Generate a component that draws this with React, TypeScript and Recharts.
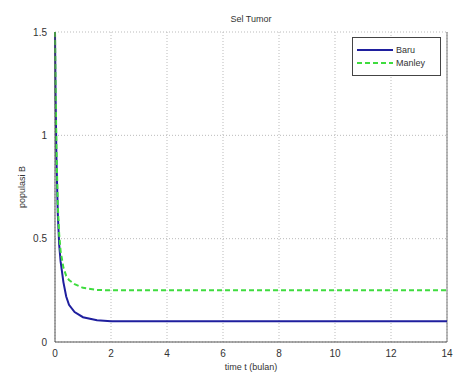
import { LineChart, Line, XAxis, YAxis, CartesianGrid, ReferenceLine } from 'recharts';

const times = [0, 0.02, 0.05, 0.1, 0.15, 0.2, 0.3, 0.4, 0.5, 0.7, 1, 1.5, 2, 3, 4, 6, 8, 10, 12, 14];
const baru = [1.5, 1.2, 0.9, 0.62, 0.47, 0.39, 0.29, 0.22, 0.18, 0.145, 0.12, 0.105, 0.1, 0.1, 0.1, 0.1, 0.1, 0.1, 0.1, 0.1];
const manley = [1.5, 1.25, 0.95, 0.66, 0.52, 0.44, 0.36, 0.32, 0.3, 0.28, 0.262, 0.252, 0.25, 0.25, 0.25, 0.25, 0.25, 0.25, 0.25, 0.25];
const xTicks = [0, 2, 4, 6, 8, 10, 12, 14];
const yTicks = [0, 0.5, 1, 1.5];

const data = times.map((t, i) => ({ t, baru: baru[i], manley: manley[i] }));

const font = '"Liberation Sans", Arial, sans-serif';
const tickStyle = { fontSize: 10, fill: '#333', fontFamily: font };

// legend drawn as an overlay so it doesn't push the plot down
function LegendBox() {
  return (
    <div
      style={{
        position: 'absolute',
        left: 352,
        top: 37,
        width: 89,
        height: 39,
        boxSizing: 'border-box',
        border: '1px solid #444',
        background: '#fff',
        padding: '5px 4px',
        fontFamily: font,
        fontSize: 9,
        color: '#333',
      }}
    >
      <div style={{ display: 'flex', alignItems: 'center', gap: 3, height: 13 }}>
        <svg width={36} height={6}>
          <line x1={0} y1={3} x2={36} y2={3} stroke="#1f1f9e" strokeWidth={2} />
        </svg>
        <span>Baru</span>
      </div>
      <div style={{ display: 'flex', alignItems: 'center', gap: 3, height: 13 }}>
        <svg width={36} height={6}>
          <line x1={0} y1={3} x2={36} y2={3} stroke="#3fdc3f" strokeWidth={2} strokeDasharray="5 3" />
        </svg>
        <span>Manley</span>
      </div>
    </div>
  );
}

export default function App() {
  return (
    <div style={{ position: 'absolute', left: 0, top: 0, width: 454, height: 376, background: '#fff' }}>
      <div
        style={{
          position: 'absolute',
          left: 55,
          width: 392,
          top: 14,
          textAlign: 'center',
          fontFamily: font,
          fontSize: 9,
          color: '#333',
        }}
      >
        Sel Tumor
      </div>
      <LineChart width={454} height={376} data={data} margin={{ top: 32, right: 7, bottom: 0, left: 0 }}>
        <CartesianGrid stroke="#bbb" strokeDasharray="1 2" />
        <XAxis
          dataKey="t"
          type="number"
          domain={[0, 14]}
          ticks={xTicks}
          height={34}
          tick={tickStyle}
          tickLine={false}
          stroke="#555"
          label={{ value: 'time t (bulan)', position: 'insideBottom', offset: 6, style: { fontSize: 9, fill: '#333', fontFamily: font } }}
        />
        <YAxis
          type="number"
          domain={[0, 1.5]}
          ticks={yTicks}
          width={55}
          tick={tickStyle}
          tickLine={false}
          stroke="#555"
          label={{ value: 'populasi B', angle: -90, position: 'insideLeft', offset: 22, style: { fontSize: 9, fill: '#333', fontFamily: font, textAnchor: 'middle' } }}
        />
        <ReferenceLine x={14} stroke="#777" />
        <Line type="linear" dataKey="baru" name="Baru" stroke="#1f1f9e" strokeWidth={2} dot={false} isAnimationActive={false} />
        <Line type="linear" dataKey="manley" name="Manley" stroke="#3fdc3f" strokeWidth={2} strokeDasharray="5 3" dot={false} isAnimationActive={false} />
      </LineChart>
      <LegendBox />
    </div>
  );
}
